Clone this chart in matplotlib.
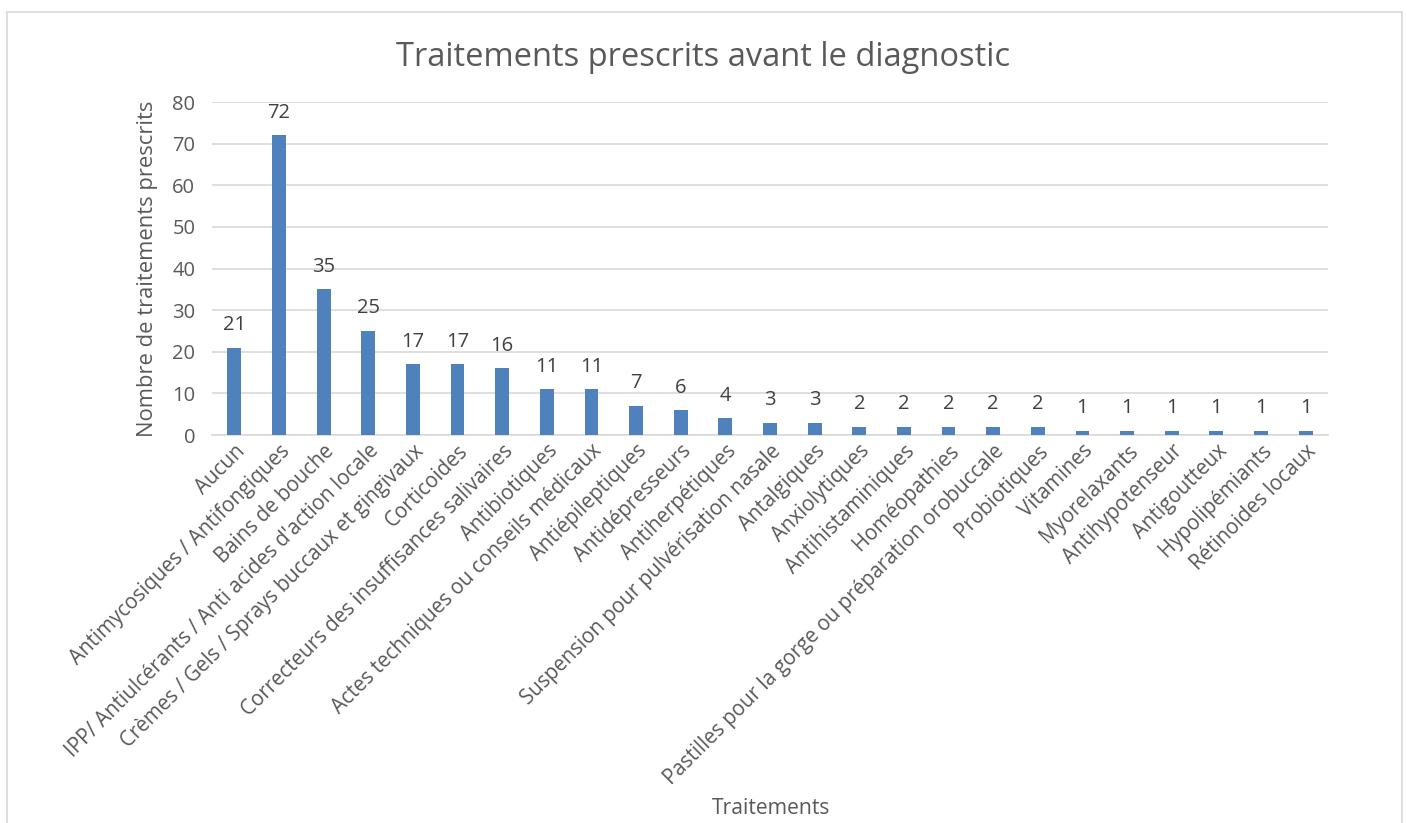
import matplotlib.pyplot as plt
from matplotlib.patches import Rectangle

plt.rcParams['font.family'] = ['Open Sans', 'DejaVu Sans']

categories = [
    "Aucun",
    "Antimycosiques / Antifongiques",
    "Bains de bouche",
    "IPP/ Antiulcérants / Anti acides d'action locale",
    "Crèmes / Gels / Sprays buccaux et gingivaux",
    "Corticoides",
    "Correcteurs des insuffisances salivaires",
    "Antibiotiques",
    "Actes techniques ou conseils médicaux",
    "Antiépileptiques",
    "Antidépresseurs",
    "Antiherpétiques",
    "Suspension pour pulvérisation nasale",
    "Antalgiques",
    "Anxiolytiques",
    "Antihistaminiques",
    "Homéopathies",
    "Pastilles pour la gorge ou préparation orobuccale",
    "Probiotiques",
    "Vitamines",
    "Myorelaxants",
    "Antihypotenseur",
    "Antigoutteux",
    "Hypolipémiants",
    "Rétinoides locaux",
]
values = [21, 72, 35, 25, 17, 17, 16, 11, 11, 7, 6, 4, 3, 3, 2, 2, 2, 2, 2,
          1, 1, 1, 1, 1, 1]

text_color = '#595959'
bar_color = '#4F81BD'
grid_color = '#D9D9D9'

fig = plt.figure(figsize=(14.07, 8.23), dpi=100)
ax = fig.add_axes([0.1507, 0.4714, 0.7931, 0.4046])

# chart border
fig.patches.append(Rectangle((7 / 1407, -0.01), 1395 / 1407, 1 - 12 / 823 + 0.01,
                             transform=fig.transFigure, fill=False,
                             edgecolor='#D9D9D9', linewidth=1.2))

x = range(len(categories))
bars = ax.bar(x, values, width=0.31, color=bar_color, zorder=3)

for xi, v in zip(x, values):
    ax.text(xi, v + 3.0, str(v), ha='center', va='bottom', fontsize=14.5,
            color='#404040')

ax.set_xlim(-0.5, len(categories) - 0.5)
ax.set_ylim(0, 80)
ax.set_yticks(range(0, 81, 10))
ax.yaxis.grid(True, color=grid_color, linewidth=1.2, zorder=0)
ax.set_axisbelow(True)

for s in ['top', 'right', 'left']:
    ax.spines[s].set_visible(False)
ax.spines['bottom'].set_color(grid_color)
ax.spines['bottom'].set_linewidth(1.2)

ax.tick_params(axis='both', length=0, colors=text_color, labelsize=14.5)
ax.tick_params(axis='y', pad=12)
ax.tick_params(axis='x', pad=4)
ax.set_xticks(list(x))
ax.set_xticklabels(categories, rotation=45, ha='right', rotation_mode='anchor',
                   fontsize=14.8, color=text_color)

ax.set_ylabel('Nombre de traitements prescrits', fontsize=15.8, color=text_color,
              labelpad=10)
fig.text(0.548, 0.018, 'Traitements', ha='center', va='center', fontsize=15.2,
         color=text_color)
fig.text(0.5, 0.93, 'Traitements prescrits avant le diagnostic', ha='center',
         va='center', fontsize=23.5, color=text_color)

fig.savefig('out.png', dpi=100)
